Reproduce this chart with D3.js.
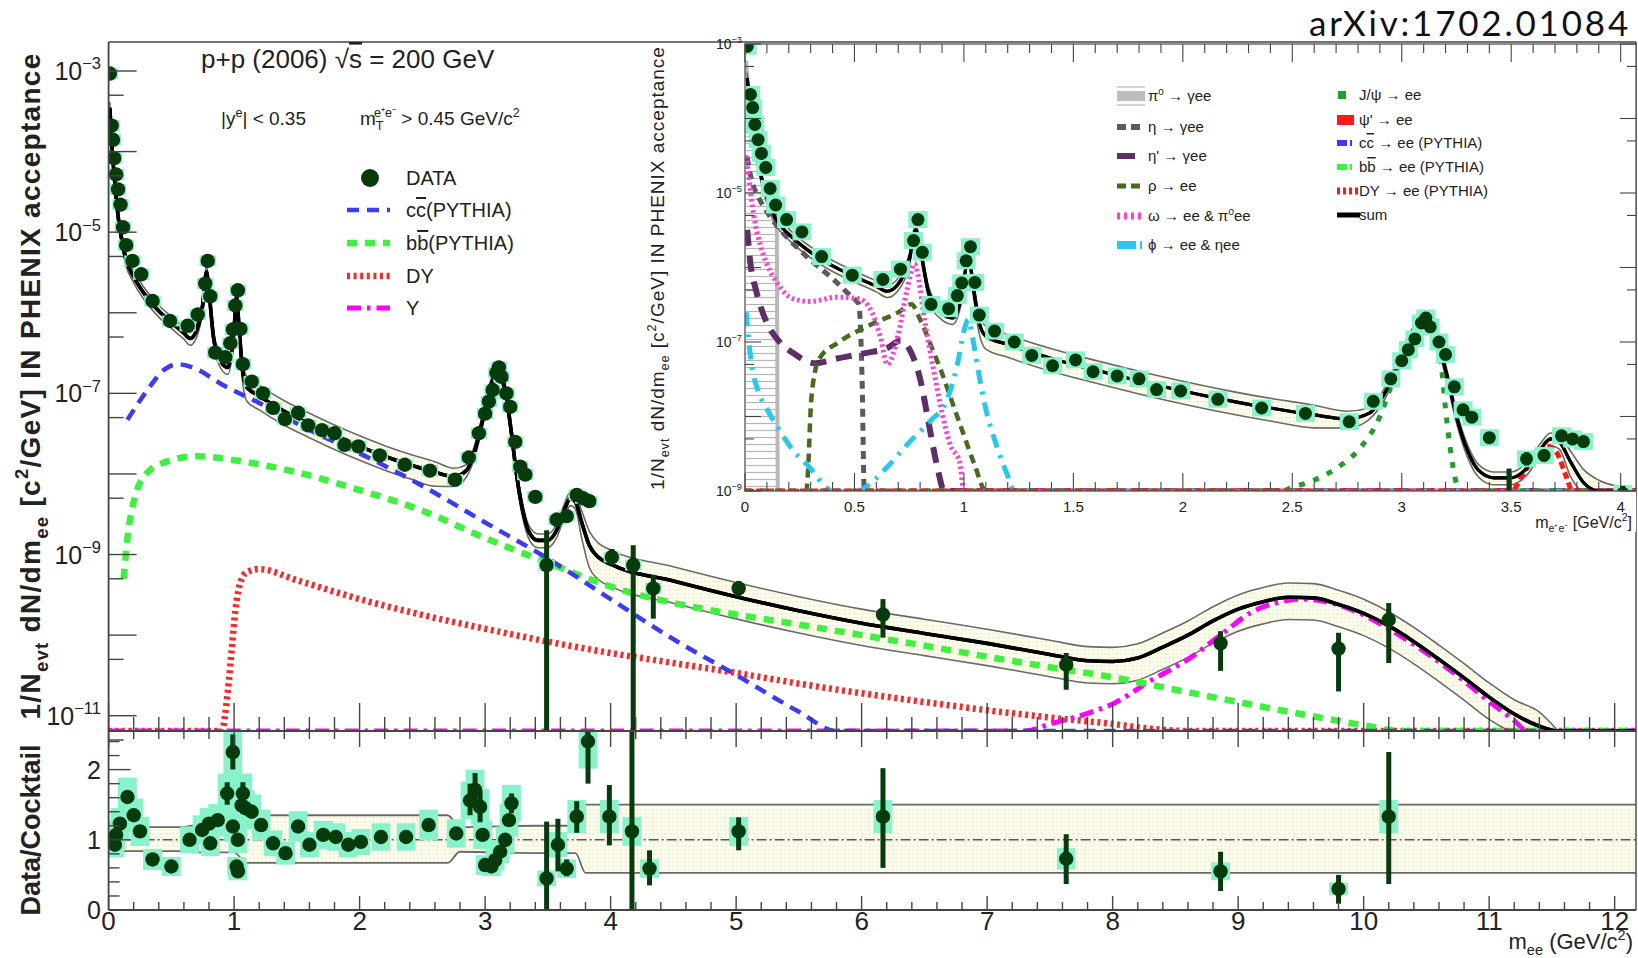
<!DOCTYPE html>
<html>
<head>
<meta charset="utf-8">
<script src="https://cdn.jsdelivr.net/npm/d3@7"></script>
<style>
  body { margin: 0; background: #fff; }
  svg { display: block; }
  text { font-family: "Liberation Sans", Arial, Helvetica, sans-serif; fill: #222; }
</style>
</head>
<body>
<div id="chart"></div>
<script>
// ---------------- measured spectrum (mass GeV/c^2, yield) ----------------
const spectrumPoints = [
  [0.01,9.3e-4],[0.025,2.1e-4],[0.035,1.4e-4],[0.045,8.3e-5],[0.06,5.2e-5],[0.075,3.4e-5],
  [0.095,2.2e-5],[0.115,1.15e-5],[0.14,6.9e-6],[0.19,4.4e-6],[0.26,3.0e-6],[0.35,1.4e-6],
  [0.49,7.9e-7],[0.63,6.9e-7],[0.71,9.5e-7],[0.77,2.3e-6],[0.79,4.4e-6],[0.81,1.6e-6],
  [0.85,3.2e-7],[0.93,2.8e-7],[0.97,4.2e-7],[0.99,6.2e-7],[1.01,1.23e-6],[1.03,1.9e-6],
  [1.05,6.3e-7],[1.07,2.3e-7],[1.14,1.4e-7],[1.23,1.0e-7],[1.31,6.6e-8],[1.405,4.8e-8],
  [1.51,5.75e-8],[1.59,4.0e-8],[1.70,3.5e-8],[1.80,3.2e-8],[1.88,2.3e-8],[1.99,2.2e-8],
  [2.16,1.7e-8],[2.36,1.3e-8],[2.56,1.1e-8],[2.76,8.5e-9],[2.87,1.6e-8],[2.95,3.2e-8],
  [3.0,5.6e-8],[3.03,7.9e-8],[3.06,1.1e-7],[3.09,1.8e-7],[3.11,2.1e-7],[3.13,1.6e-7],
  [3.17,1.0e-7],[3.20,6.8e-8],[3.24,2.5e-8],[3.28,1.23e-8],[3.32,9.8e-9],[3.40,5.2e-9],
  [3.49,7.4e-10],[3.57,2.7e-9],[3.65,3.0e-9],[3.73,5.5e-9],[3.78,5.0e-9],[3.83,4.6e-9],
  [4.01,9.3e-10],[4.18,7.4e-10],[4.34,3.8e-10],[5.02,3.8e-10],[6.17,1.8e-10],[7.63,4.3e-11],
  [8.86,7.9e-11],[9.80,6.8e-11],[10.2,1.55e-10]
];
// statistical error bars that are larger than the marker: [mass, low, high]
const spectrumErrors = [
  [3.49,0,2.0e-9],[3.57,2.2e-9,3.3e-9],[3.65,2.5e-9,3.6e-9],[3.73,4.6e-9,6.6e-9],
  [4.01,7.4e-10,1.17e-9],[4.18,0,1.3e-9],[4.34,1.6e-10,5.6e-10],[5.02,3.0e-10,4.7e-10],
  [6.17,9.3e-11,2.8e-10],[7.63,2.1e-11,6.0e-11],[8.86,3.6e-11,1.12e-10],
  [9.80,2.0e-11,1.07e-10],[10.2,4.5e-11,2.5e-10]
];

// ---------------- cocktail components, main panel ----------------
const charmCurve = [
  [0.15,4.7e-8],[0.3,1.05e-7],[0.45,2.0e-7],[0.55,2.3e-7],[0.7,2.0e-7],[0.9,1.3e-7],
  [1.2,7.6e-8],[1.6,3.5e-8],[2.0,1.8e-8],[2.5,7.1e-9],[3.0,2.5e-9],[3.5,8.9e-10],
  [4.0,2.8e-10],[4.5,8.9e-11],[5.0,3.2e-11],[5.5,1.12e-11],[5.8,6.3e-12],[5.9,0]
];
const bottomCurve = [
  [0.12,5.0e-10],[0.15,1.6e-9],[0.2,4.5e-9],[0.3,1.0e-8],[0.45,1.4e-8],[0.7,1.66e-8],
  [1.0,1.48e-8],[1.5,1.05e-8],[2.0,6.3e-9],[2.5,3.5e-9],[3.0,1.6e-9],[3.5,7.9e-10],
  [4.0,4.0e-10],[4.5,2.5e-10],[5.0,1.8e-10],[5.5,1.35e-10],[6.0,1.0e-10],[6.5,7.4e-11],
  [7.0,5.4e-11],[7.5,4.0e-11],[8.0,3.0e-11],[8.5,2.1e-11],[9.0,1.48e-11],[9.5,1.05e-11],
  [10.0,7.6e-12],[10.3,6.3e-12],[10.4,0]
];
const drellYanCurve = [
  [0.9,0],[0.95,2.0e-11],[0.98,6.3e-11],[1.01,2.0e-10],[1.05,4.5e-10],[1.1,6.0e-10],
  [1.2,6.6e-10],[1.5,4.8e-10],[2.0,2.8e-10],[2.5,1.78e-10],[3.0,1.2e-10],[3.5,8.3e-11],
  [4.0,6.0e-11],[4.5,4.5e-11],[5.0,3.4e-11],[5.5,2.5e-11],[6.0,1.9e-11],[6.5,1.48e-11],
  [7.0,1.17e-11],[7.5,9.5e-12],[8.0,7.9e-12],[8.3,6.9e-12],[8.6,0]
];
const upsilonCurve = [
  [7.3,0],[7.5,7.9e-12],[7.8,1.07e-11],[8.0,1.4e-11],[8.3,2.7e-11],[8.6,5.0e-11],
  [8.9,1.12e-10],[9.1,1.9e-10],[9.3,2.5e-10],[9.5,2.8e-10],[9.7,2.6e-10],[10.0,1.78e-10],
  [10.2,1.2e-10],[10.5,6.0e-11],[10.8,2.7e-11],[11.0,1.5e-11],[11.2,8.7e-12],[11.3,0]
];
const sumCurve = [
  [0.01,3.5e-4],[0.02,1.8e-4],[0.03,1.0e-4],[0.05,4.0e-5],[0.08,1.4e-5],[0.1,8.9e-6],
  [0.14,4.5e-6],[0.2,2.8e-6],[0.3,1.6e-6],[0.4,1.05e-6],[0.5,7.6e-7],[0.6,5.6e-7],
  [0.65,4.8e-7],[0.7,6.0e-7],[0.75,1.26e-6],[0.78,3.2e-6],[0.8,1.8e-6],[0.84,4.5e-7],
  [0.9,2.4e-7],[0.95,2.1e-7],[0.98,3.2e-7],[1.0,6.3e-7],[1.02,1.6e-6],[1.04,6.3e-7],
  [1.07,1.8e-7],[1.1,1.2e-7],[1.2,9.3e-8],[1.4,6.0e-8],[1.6,4.2e-8],[1.8,3.0e-8],
  [2.0,2.2e-8],[2.2,1.66e-8],[2.4,1.3e-8],[2.6,1.05e-8],[2.75,9.3e-9],[2.85,1.1e-8],
  [2.92,2.0e-8],[2.97,4.0e-8],[3.02,8.9e-8],[3.07,1.6e-7],[3.1,1.9e-7],[3.13,1.66e-7],
  [3.17,8.9e-8],[3.21,3.2e-8],[3.25,1.0e-8],[3.3,3.5e-9],[3.35,1.9e-9],[3.42,1.5e-9],
  [3.5,1.5e-9],[3.57,2.0e-9],[3.63,3.5e-9],[3.68,5.0e-9],[3.72,4.5e-9],[3.77,2.5e-9],
  [3.83,1.3e-9],[3.9,9.3e-10],[4.0,7.6e-10],[4.5,4.7e-10],[5.0,3.0e-10],[5.5,2.0e-10],
  [6.0,1.4e-10],[6.5,1.05e-10],[7.0,7.9e-11],[7.5,5.75e-11],[7.8,4.8e-11],[8.0,4.7e-11],
  [8.2,5.2e-11],[8.4,7.1e-11],[8.6,1.0e-10],[8.8,1.5e-10],[9.0,2.1e-10],[9.2,2.6e-10],
  [9.4,2.95e-10],[9.6,2.9e-10],[9.8,2.4e-10],[10.0,1.86e-10],[10.2,1.3e-10],[10.4,8.3e-11],
  [10.6,5.0e-11],[10.8,2.95e-11],[11.0,1.7e-11],[11.2,1.05e-11],[11.4,7.4e-12],[11.55,0]
];
// relative cocktail systematic band (also shown in the ratio panel)
const bandMass = [0, 0.6, 0.66, 1.0, 1.1, 2.7, 2.8, 3.4, 3.72, 3.8, 12.2];
const bandHigh = [1.18, 1.18, 1.2, 1.2, 1.35, 1.35, 1.18, 1.2, 1.2, 1.5, 1.5];
const bandLow  = [0.84, 0.84, 0.82, 0.82, 0.67, 0.67, 0.83, 0.81, 0.81, 0.53, 0.53];

// ---------------- data / cocktail ratio ----------------
const ratioPoints = [
  [0.006,1.00],[0.05,0.93],[0.06,1.07],[0.09,1.23],[0.15,1.61],[0.2,1.35],[0.25,1.12],
  [0.35,0.72],[0.50,0.62],[0.645,1.0],[0.745,1.14],[0.80,1.23],[0.81,0.95],[0.87,1.28],
  [0.945,1.66],[0.99,2.25],[0.99,1.19],[1.03,1.0],[1.02,0.62],[1.03,0.55],[1.07,1.66],
  [1.06,1.49],[1.09,1.45],[1.14,1.40],[1.215,1.21],[1.31,0.95],[1.41,0.81],[1.51,1.19],
  [1.60,0.93],[1.71,1.07],[1.81,1.04],[1.91,0.93],[2.01,0.97],[2.17,1.04],[2.37,1.04],
  [2.55,1.21],[2.77,1.09],[2.88,1.56],[2.92,1.71],[2.96,1.47],[2.98,1.07],[3.0,0.64],
  [3.05,0.62],[3.08,0.71],[3.12,0.83],[3.16,1.0],[3.19,1.28],[3.21,1.52],[3.49,0.45],
  [3.58,0.93],[3.65,0.59],[3.73,1.33],[3.82,2.4],[3.99,1.33],[4.17,1.12],[4.31,0.59],
  [5.02,1.12],[6.17,1.33],[7.63,0.73],[8.86,0.55],[9.80,0.30],[10.2,1.33]
];
const ratioErrors = [
  [0.945,1.5,1.82],[0.99,2.0,2.5],[1.07,1.5,1.82],[2.88,1.35,1.8],[2.92,1.45,1.95],
  [2.96,1.25,1.7],[3.21,1.38,1.66],[3.49,0,1.26],[3.58,0.55,1.3],[3.65,0.48,0.72],
  [3.73,1.1,1.55],[3.82,1.8,2.6],[3.99,0.92,1.78],[4.17,0,2.6],[4.31,0.35,0.85],
  [5.02,0.85,1.32],[6.17,0.60,2.02],[7.63,0.37,1.08],[8.86,0.27,0.83],[9.80,0.09,0.50],
  [10.2,0.37,2.25]
];

// ---------------- hadronic cocktail, low-mass panel ----------------
const pi0Curve = [[0.005,6e-4],[0.02,1.6e-4],[0.04,5e-5],[0.07,1.8e-5],[0.1,8e-6],[0.13,4.5e-6],[0.145,3.4e-6],[0.15,0]];
const etaCurve = [[0.01,3e-5],[0.03,1.5e-5],[0.06,9e-6],[0.1,5.6e-6],[0.15,3.5e-6],[0.2,2.4e-6],[0.3,1.26e-6],[0.4,7.1e-7],[0.48,4.2e-7],[0.52,3.2e-7],[0.535,3e-8],[0.545,0]];
const etaPrimeCurve = [[0.01,3.2e-6],[0.025,1.12e-6],[0.05,5e-7],[0.1,1.8e-7],[0.15,1.07e-7],[0.22,7.1e-8],[0.32,5.2e-8],[0.42,6.0e-8],[0.55,7.1e-8],[0.65,8.3e-8],[0.71,1.05e-7],[0.76,7.1e-8],[0.8,3.2e-8],[0.84,7.9e-9],[0.88,2.0e-9],[0.91,7.9e-10],[0.93,0]];
const rhoCurve = [[0.28,0],[0.29,2.5e-9],[0.3,1.26e-8],[0.32,4.0e-8],[0.34,6.0e-8],[0.43,1.0e-7],[0.58,1.74e-7],[0.7,2.5e-7],[0.76,3.2e-7],[0.8,2.0e-7],[0.85,8.9e-8],[0.9,3.8e-8],[0.95,1.45e-8],[1.0,5.6e-9],[1.05,2.2e-9],[1.1,8.9e-10],[1.12,0]];
const omegaCurve = [[0.005,3.2e-5],[0.02,1.4e-5],[0.04,5.0e-6],[0.07,2.0e-6],[0.1,1.12e-6],[0.15,6.0e-7],[0.22,3.8e-7],[0.3,3.5e-7],[0.42,4.0e-7],[0.52,3.8e-7],[0.58,2.5e-7],[0.62,1.12e-7],[0.65,5.0e-8],[0.7,1.26e-7],[0.74,5.0e-7],[0.775,1.12e-6],[0.79,7.9e-7],[0.82,2.0e-7],[0.86,4.5e-8],[0.9,1.12e-8],[0.94,4.0e-9],[0.98,2.5e-9],[1.0,5e-10],[1.01,0]];
const phiCurve = [[0.005,2.5e-7],[0.03,5.0e-8],[0.06,2.2e-8],[0.1,1.26e-8],[0.15,7.1e-9],[0.22,3.5e-9],[0.3,2.0e-9],[0.36,1.2e-9],[0.4,6.3e-10],[0.42,0],[0.5,0],[0.52,6.3e-10],[0.55,1.12e-9],[0.65,2.1e-9],[0.75,4.5e-9],[0.85,8.9e-9],[0.92,1.6e-8],[0.97,5.0e-8],[1.0,1.4e-7],[1.02,2.0e-7],[1.04,1.12e-7],[1.07,3.5e-8],[1.1,1.26e-8],[1.15,4.0e-9],[1.2,1.6e-9],[1.23,7.9e-10],[1.25,0]];
const jpsiCurve = [[2.4,0],[2.45,1.0e-9],[2.5,1.12e-9],[2.6,1.4e-9],[2.7,2.0e-9],[2.8,3.5e-9],[2.9,1.0e-8],[2.95,2.5e-8],[3.0,6.3e-8],[3.05,1.26e-7],[3.1,1.8e-7],[3.15,1.26e-7],[3.18,5.0e-8],[3.2,1.26e-8],[3.22,4.0e-9],[3.25,1.26e-9],[3.27,0]];
const psiPrimeCurve = [[3.45,0],[3.5,1.0e-9],[3.56,1.8e-9],[3.62,3.2e-9],[3.67,4.0e-9],[3.71,3.2e-9],[3.75,1.6e-9],[3.78,8.9e-10],[3.8,0]];

// ---------------- axis tick values ----------------
const massTicks = d3.range(0, 13);
const yieldLabelExps = [-3, -5, -7, -9, -11];
const ratioTickLabels = [0, 1, 2];
const insetMassTicks = [0, 0.5, 1, 1.5, 2, 2.5, 3, 3.5, 4];
const insetLabelExps = [-3, -5, -7, -9];

// ---------------- layout ----------------
const W = 1638, H = 958;
const DATA_COLOR = "#073b0c", SYS_COLOR = "#88f3ca";

const x = d3.scaleLinear().domain([0, 12.17]).range([108.6, 1636]);
const y = d3.scaleLog().domain([6.46e-12, 2.29e-3]).range([731, 42]);
const yr = d3.scaleLinear().domain([0, 2.55]).range([910, 731]);
const xi = d3.scaleLinear().domain([0, 4.07]).range([745, 1636]);
const yi = d3.scaleLog().domain([1e-9, 1e-3]).range([491, 44]);

const svg = d3.select("#chart").append("svg").attr("width", W).attr("height", H);
const defs = svg.append("defs");

const dots = defs.append("pattern").attr("id", "bandFill").attr("width", 4).attr("height", 4)
  .attr("patternUnits", "userSpaceOnUse");
dots.append("rect").attr("width", 4).attr("height", 4).attr("fill", "#fffff0");
dots.append("rect").attr("x", 1).attr("y", 1).attr("width", 1.3).attr("height", 1.3).attr("fill", "#e9e98a");

const hatch = defs.append("pattern").attr("id", "pi0Hatch").attr("width", 8).attr("height", 7)
  .attr("patternUnits", "userSpaceOnUse");
hatch.append("line").attr("x1", 0).attr("x2", 8).attr("y1", 3.5).attr("y2", 3.5)
  .attr("stroke", "#b5b5b5").attr("stroke-width", 1.2);

function clip(id, x0, y0, x1, y1) {
  defs.append("clipPath").attr("id", id).append("rect")
    .attr("x", x0).attr("y", y0).attr("width", x1 - x0).attr("height", y1 - y0);
}
clip("clipTop", 108.6, 42, 1636, 731);
clip("clipRatio", 108.6, 731, 1636, 910);
clip("clipInset", 745, 44, 1636, 491);

// ---------- helpers ----------
function rich(t, parts, fs) {
  let shift = 0;
  parts.forEach(p => {
    const s = p[0], k = p[1] || "n", dx = p[2] || 0;
    const target = k === "sup" ? -0.42 * fs : k === "sub" ? 0.28 * fs : 0;
    const sp = t.append("tspan").attr("dy", target - shift).text(s);
    if (dx) sp.attr("dx", dx);
    if (k === "sup" || k === "sub") sp.style("font-size", (0.66 * fs) + "px");
    if (k === "over") sp.style("text-decoration", "overline");
    shift = target;
  });
  return t;
}
function label(g, px, py, parts, fs, anchor, extra) {
  const t = g.append("text").attr("x", px).attr("y", py)
    .attr("text-anchor", anchor || "start").style("font-size", fs + "px");
  if (extra) extra(t);
  return rich(t, parts, fs);
}
function withFloor(pts, xs) {
  const p = pts.slice();
  const [d0, d1] = xs.domain();
  if (p[0][1] === 0) p.unshift([d0, 0]);
  if (p[p.length - 1][1] === 0) p.push([d1, 0]);
  return p;
}
function seriesLine(xs, ys) {
  const lo = ys.domain()[0];
  return d3.line().x(d => xs(d[0])).y(d => ys(Math.max(d[1], lo))).curve(d3.curveMonotoneX);
}
function drawSeries(g, pts, xs, ys, style) {
  g.append("path").attr("d", seriesLine(xs, ys)(withFloor(pts, xs)))
    .attr("fill", "none").attr("stroke", style.color).attr("stroke-width", style.width)
    .attr("stroke-dasharray", style.dash || null).attr("stroke-linejoin", "round");
}
const bandHi = d3.scaleLinear().domain(bandMass).range(bandHigh);
const bandLo = d3.scaleLinear().domain(bandMass).range(bandLow);
function drawSum(g, xs, ys, sumWidth) {
  const lo = ys.domain()[0];
  const pts = sumCurve.filter(d => d[0] <= xs.domain()[1] + 0.2);
  const area = d3.area().x(d => xs(d[0]))
    .y0(d => ys(Math.max(d[1] * bandLo(d[0]), lo)))
    .y1(d => ys(Math.max(d[1] * bandHi(d[0]), lo)))
    .curve(d3.curveMonotoneX);
  g.append("path").attr("d", area(pts)).attr("fill", "url(#bandFill)");
  [bandLo, bandHi].forEach(f => {
    g.append("path")
      .attr("d", d3.line().x(d => xs(d[0])).y(d => ys(Math.max(d[1] * f(d[0]), lo))).curve(d3.curveMonotoneX)(pts))
      .attr("fill", "none").attr("stroke", "#6a6a6a").attr("stroke-width", 1.6);
  });
  g.append("path").attr("d", seriesLine(xs, ys)(withFloor(pts, xs)))
    .attr("fill", "none").attr("stroke", "#000").attr("stroke-width", sumWidth);
}
function drawSpectrum(g, xs, ys, r, sysMax, sysPad, sysFactor) {
  const lo = ys.domain()[0];
  const pts = spectrumPoints.filter(d => d[0] <= xs.domain()[1]);
  g.selectAll(null).data(pts.filter(d => d[0] < sysMax)).join("rect")
    .attr("x", d => xs(d[0]) - r - sysPad).attr("width", 2 * (r + sysPad))
    .attr("y", d => ys(d[1] * sysFactor)).attr("height", d => ys(d[1] / sysFactor) - ys(d[1] * sysFactor))
    .attr("fill", SYS_COLOR);
  g.selectAll(null).data(spectrumErrors.filter(d => d[0] <= xs.domain()[1])).join("line")
    .attr("x1", d => xs(d[0])).attr("x2", d => xs(d[0]))
    .attr("y1", d => ys(Math.max(d[1], lo))).attr("y2", d => ys(d[2]))
    .attr("stroke", DATA_COLOR).attr("stroke-width", 5);
  g.selectAll(null).data(pts).join("circle")
    .attr("cx", d => xs(d[0])).attr("cy", d => ys(d[1])).attr("r", r)
    .attr("fill", DATA_COLOR);
}

// ================= main upper panel =================
const topPanel = svg.append("g");
const topPlot = topPanel.append("g").attr("clip-path", "url(#clipTop)");
drawSum(topPlot, x, y, 3.6);
drawSeries(topPlot, drellYanCurve, x, y, { color: "#ff2626", width: 6.5, dash: "3,3.6" });
drawSeries(topPlot, upsilonCurve, x, y, { color: "#ff00ff", width: 5, dash: "14,6,3.5,6" });
drawSeries(topPlot, bottomCurve, x, y, { color: "#3df23d", width: 6.5, dash: "10,8" });
drawSeries(topPlot, charmCurve, x, y, { color: "#3a3af7", width: 4.5, dash: "12,8" });
// sum line again, above the components
topPlot.append("path").attr("d", seriesLine(x, y)(withFloor(sumCurve, x)))
  .attr("fill", "none").attr("stroke", "#000").attr("stroke-width", 3.6);
drawSpectrum(topPlot, x, y, 7.2, 4.4, 1, 1.17);

// ================= ratio panel =================
const ratioG = svg.append("g").attr("clip-path", "url(#clipRatio)");
const bandPts = bandMass.map((m, i) => [m, bandLow[i], bandHigh[i]]);
ratioG.append("path")
  .attr("d", d3.area().x(d => x(d[0])).y0(d => yr(d[1])).y1(d => yr(d[2])).curve(d3.curveMonotoneX)(bandPts))
  .attr("fill", "url(#bandFill)");
[1, 2].forEach(k => {
  ratioG.append("path")
    .attr("d", d3.line().x(d => x(d[0])).y(d => yr(d[k])).curve(d3.curveMonotoneX)(bandPts))
    .attr("fill", "none").attr("stroke", "#6a6a6a").attr("stroke-width", 1.8);
});
ratioG.append("line").attr("x1", x(0)).attr("x2", x(12.17)).attr("y1", yr(1)).attr("y2", yr(1))
  .attr("stroke", "#555").attr("stroke-width", 1.5).attr("stroke-dasharray", "10,3,2,3");
ratioG.selectAll(null).data(ratioPoints).join("rect")
  .attr("x", d => x(d[0] - 0.075)).attr("width", x(0.15) - x(0))
  .attr("y", d => yr(d[1] * 1.14 + 0.05)).attr("height", d => yr(d[1] * 0.86 - 0.05) - yr(d[1] * 1.14 + 0.05))
  .attr("fill", SYS_COLOR);
ratioG.selectAll(null).data(ratioErrors).join("line")
  .attr("x1", d => x(d[0])).attr("x2", d => x(d[0]))
  .attr("y1", d => yr(d[1])).attr("y2", d => yr(d[2]))
  .attr("stroke", DATA_COLOR).attr("stroke-width", 5);
ratioG.selectAll(null).data(ratioPoints).join("circle")
  .attr("cx", d => x(d[0])).attr("cy", d => yr(d[1])).attr("r", 7.2).attr("fill", DATA_COLOR);

// ================= frames, ticks and labels (main) =================
const axes = svg.append("g");
const AX = "#444";
function seg(g, x1, y1, x2, y2, w) {
  g.append("line").attr("x1", x1).attr("y1", y1).attr("x2", x2).attr("y2", y2)
    .attr("stroke", AX).attr("stroke-width", w || 1.4);
}
seg(axes, x(0), 42, 1636, 42);
seg(axes, x(0), 42, x(0), 910, 1.8);
seg(axes, 1636, 42, 1636, 910);
seg(axes, x(0), 731, 1636, 731, 1.8);
seg(axes, x(0), 910, 1636, 910, 1.8);

d3.range(0, 12.17, 0.2).forEach(m => {
  const major = Math.abs(m - Math.round(m)) < 1e-6;
  const px = x(m);
  seg(axes, px, 731, px, 731 - (major ? 28 : 14));
  seg(axes, px, 731, px, 731 + (major ? 16 : 8));
  seg(axes, px, 910, px, 910 - (major ? 14 : 8));
});
for (let e = -11; e <= -3; e++) {
  const py = y(Math.pow(10, e));
  seg(axes, x(0), py, x(0) + 28, py);
  const pm = y(5 * Math.pow(10, e - 1));
  seg(axes, x(0), pm, x(0) + 15, pm);
}
d3.range(0, 2.55, 0.2).forEach(v => {
  const major = Math.abs(v - Math.round(v)) < 1e-6;
  seg(axes, x(0), yr(v), x(0) + (major ? 22 : 11), yr(v));
});

yieldLabelExps.forEach(e => {
  label(axes, 101, y(Math.pow(10, e)) + 9, [["10"], ["−" + (-e), "sup"]], 25, "end");
});
ratioTickLabels.forEach(v => {
  label(axes, 101, yr(v) + 9, [[String(v)]], 25, "end");
});
massTicks.forEach(m => {
  label(axes, x(m), 930, [[String(m)]], 26, "middle");
});
label(axes, 1633, 949, [["m"], ["ee", "sub"], [" (GeV/c"], ["2", "sup"], [")"]], 22, "end");

// axis titles
label(axes, 0, 0, [["1/N"], ["evt", "sub"], [" dN/dm"], ["ee", "sub"], [" [c"], ["2", "sup"], ["/GeV] IN PHENIX acceptance"]], 28, "middle",
  t => t.attr("transform", "translate(40,386) rotate(-90)").style("font-weight", "bold").style("letter-spacing", "1.3px"));
label(axes, 0, 0, [["Data/Cocktail"]], 27, "middle",
  t => t.attr("transform", "translate(40,830) rotate(-90)").style("font-weight", "bold"));

// header text
label(axes, 201, 68, [["p+p (2006) √"], ["s", "over"], [" = 200 GeV"]], 26);
label(axes, 221, 125, [["|y"], ["e", "sup"], ["| < 0.35"]], 19);
label(axes, 360, 125, [["m"], ["T", "sub"], ["e⁺e⁻", "sup", -8], [" > 0.45 GeV/c"], ["2", "sup"]], 19);
svg.append("text").attr("x", 1631).attr("y", 36).attr("text-anchor", "end")
  .style("font-family", "Lato, 'Open Sans', sans-serif").style("font-size", "35px")
  .style("letter-spacing", "2.8px").style("fill", "#111")
  .text("arXiv:1702.01084");

// main legend
const leg = svg.append("g");
leg.append("circle").attr("cx", 370).attr("cy", 178).attr("r", 9).attr("fill", DATA_COLOR);
label(leg, 406, 185, [["DATA"]], 20);
const legendRows = [
  { yy: 210, color: "#3a3af7", width: 4.5, dash: "12,8", text: [["c"], ["c", "over"], ["(PYTHIA)"]] },
  { yy: 243, color: "#3df23d", width: 6.5, dash: "10,8", text: [["b"], ["b", "over"], ["(PYTHIA)"]] },
  { yy: 276, color: "#ff2626", width: 6.5, dash: "3,3.6", text: [["DY"]] },
  { yy: 308, color: "#ff00ff", width: 5, dash: "14,6,3.5,6", text: [["Υ"]] }
];
legendRows.forEach(r => {
  leg.append("line").attr("x1", 347).attr("x2", 390).attr("y1", r.yy).attr("y2", r.yy)
    .attr("stroke", r.color).attr("stroke-width", r.width).attr("stroke-dasharray", r.dash);
  label(leg, 406, r.yy + 7, r.text, 20);
});

// ================= low-mass inset =================
const inset = svg.append("g");
inset.append("rect").attr("x", 640).attr("y", 44).attr("width", 1636 - 640).attr("height", 488).attr("fill", "#fff");
const ip = inset.append("g").attr("clip-path", "url(#clipInset)");

// pi0 Dalitz: hatched area with a solid edge
const pi0Pts = withFloor(pi0Curve, xi);
ip.append("path")
  .attr("d", d3.area().x(d => xi(d[0])).y0(yi(1e-9)).y1(d => yi(Math.max(d[1], 1e-9))).curve(d3.curveMonotoneX)(pi0Pts))
  .attr("fill", "url(#pi0Hatch)");
drawSeries(ip, pi0Curve, xi, yi, { color: "#b8b8b8", width: 4 });

drawSum(ip, xi, yi, 3.2);
drawSeries(ip, etaCurve, xi, yi, { color: "#5a5a5a", width: 5, dash: "8,6" });
drawSeries(ip, etaPrimeCurve, xi, yi, { color: "#5c2f66", width: 6, dash: "16,10" });
drawSeries(ip, rhoCurve, xi, yi, { color: "#476b1e", width: 4.5, dash: "9,6" });
drawSeries(ip, omegaCurve, xi, yi, { color: "#ff3fd2", width: 5, dash: "2.5,3" });
drawSeries(ip, phiCurve, xi, yi, { color: "#25c8f0", width: 5, dash: "14,8,3,8" });
drawSeries(ip, jpsiCurve, xi, yi, { color: "#1f9e2a", width: 5, dash: "6,9" });
drawSeries(ip, psiPrimeCurve, xi, yi, { color: "#ff1a1a", width: 5, dash: "7,4" });
ip.append("path").attr("d", seriesLine(xi, yi)(withFloor(sumCurve.filter(d => d[0] <= 4.3), xi)))
  .attr("fill", "none").attr("stroke", "#000").attr("stroke-width", 3.2);
drawSpectrum(ip, xi, yi, 6.5, 4.4, 3, 1.3);

// inset frame and ticks
inset.append("rect").attr("x", 745).attr("y", 44).attr("width", 1636 - 745).attr("height", 447)
  .attr("fill", "none").attr("stroke", "#555").attr("stroke-width", 1.3);
d3.range(0, 4.07, 0.1).forEach(m => {
  const major = Math.abs(m * 2 - Math.round(m * 2)) < 1e-6;
  const px = xi(m), len = major ? 18 : 9;
  seg(inset, px, 491, px, 491 - len, 1.1);
  seg(inset, px, 44, px, 44 + len, 1.1);
});
for (let e = -9; e <= -3; e++) {
  const py = yi(Math.pow(10, e));
  seg(inset, 745, py, 745 + 16, py, 1.1);
  seg(inset, 1636, py, 1636 - 16, py, 1.1);
  if (e > -9) {
    const pm = yi(5 * Math.pow(10, e - 1));
    seg(inset, 745, pm, 745 + 9, pm, 1.1);
    seg(inset, 1636, pm, 1636 - 9, pm, 1.1);
  }
}
insetLabelExps.forEach(e => {
  label(inset, 742, yi(Math.pow(10, e)) + 5, [["10"], ["−" + (-e), "sup"]], 14, "end");
});
insetMassTicks.forEach(m => {
  label(inset, xi(m), 512, [[String(m)]], 15, "middle");
});
label(inset, 1632, 528, [["m"], ["e⁺e⁻", "sub"], [" [GeV/c"], ["2", "sup"], ["]"]], 16, "end");
label(inset, 0, 0, [["1/N"], ["evt", "sub"], [" dN/dm"], ["ee", "sub"], [" [c"], ["2", "sup"], ["/GeV] IN PHENIX acceptance"]], 19, "middle",
  t => t.attr("transform", "translate(664,268) rotate(-90)").style("letter-spacing", "1px"));

// inset legend
const il = inset.append("g");
const L0 = 1117, R0 = 1337;
function lline(x1, x2, yy, color, w, dash) {
  il.append("line").attr("x1", x1).attr("x2", x2).attr("y1", yy).attr("y2", yy)
    .attr("stroke", color).attr("stroke-width", w).attr("stroke-dasharray", dash || null);
}
const leftRows = [96, 127, 156, 186, 216, 245];
il.append("rect").attr("x", L0).attr("y", leftRows[0] - 5).attr("width", 28).attr("height", 10).attr("fill", "#bdbdbd");
lline(L0, L0 + 28, leftRows[0] - 9, "#c4c4c4", 1.5);
lline(L0, L0 + 28, leftRows[0] + 9, "#c4c4c4", 1.5);
lline(L0, L0 + 28, leftRows[1], "#5a5a5a", 6, "9,5");
lline(L0, L0 + 18, leftRows[2], "#5c2f66", 6);
lline(L0, L0 + 28, leftRows[3], "#476b1e", 5, "9,5");
lline(L0, L0 + 28, leftRows[4], "#ff3fd2", 7, "3,4");
lline(L0, L0 + 19, leftRows[5], "#25c8f0", 8);
lline(L0 + 23, L0 + 25, leftRows[5], "#25c8f0", 8);
const leftText = [
  [["π"], ["0", "sup"], [" → γee"]],
  [["η → γee"]],
  [[" η' → γee"]],
  [["ρ → ee"]],
  [[" ω → ee & π"], ["0", "sup"], ["ee"]],
  [["ϕ → ee & ηee"]]
];
leftText.forEach((t, i) => label(il, L0 + 31, leftRows[i] + 5, t, 15));

const rightRows = [95, 120, 143, 167, 191, 215];
il.append("rect").attr("x", R0 + 1).attr("y", rightRows[0] - 4).attr("width", 8).attr("height", 8).attr("fill", "#1f9e2a");
il.append("rect").attr("x", R0).attr("y", rightRows[1] - 5).attr("width", 17).attr("height", 10).attr("fill", "#ff1a1a");
lline(R0, R0 + 10, rightRows[2], "#3a3af7", 6);
lline(R0 + 13, R0 + 15, rightRows[2], "#3a3af7", 6);
lline(R0, R0 + 10, rightRows[3], "#3df23d", 6);
lline(R0 + 13, R0 + 15, rightRows[3], "#3df23d", 6);
lline(R0, R0 + 21, rightRows[4], "#ff1a1a", 7, "3,3");
lline(R0, R0 + 23, rightRows[5], "#000", 5);
const rightText = [
  [["  J/ψ → ee"]],
  [["  ψ' → ee"]],
  [["c"], ["c", "over"], [" → ee (PYTHIA)"]],
  [["b"], ["b", "over"], [" → ee (PYTHIA)"]],
  [["DY → ee (PYTHIA)"]],
  [["sum"]]
];
rightText.forEach((t, i) => label(il, R0 + 22, rightRows[i] + 5, t, 15));
</script>
</body>
</html>
